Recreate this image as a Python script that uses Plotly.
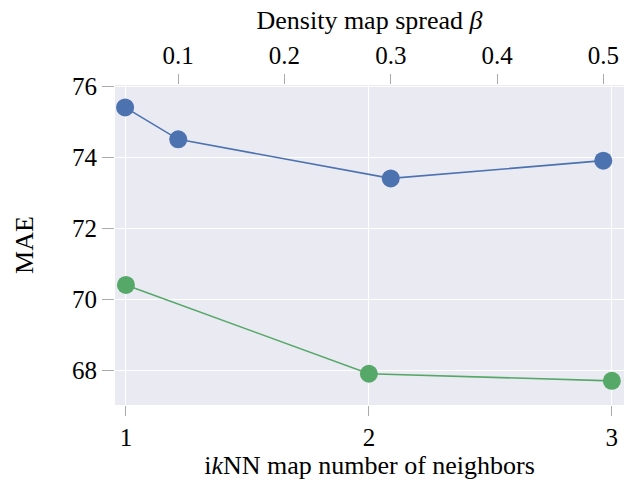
import plotly.graph_objects as go

# Data
neighbors = [1, 2, 3]
mae_neighbors = [70.4, 67.9, 67.7]
beta = [0.05, 0.1, 0.3, 0.5]
mae_beta = [75.4, 74.5, 73.4, 73.9]
y_ticks = [68, 70, 72, 74, 76]
beta_ticks = [0.1, 0.2, 0.3, 0.4, 0.5]

BLUE = "#4c72b0"
GREEN = "#55a868"
FONT = "'Liberation Serif', 'Times New Roman', 'DejaVu Serif', serif"

fig = go.Figure()
fig.add_trace(go.Scatter(x=neighbors, y=mae_neighbors, mode="lines+markers",
                         line=dict(color=GREEN, width=1.6),
                         marker=dict(color=GREEN, size=18),
                         xaxis="x", yaxis="y", showlegend=False))
fig.add_trace(go.Scatter(x=beta, y=mae_beta, mode="lines+markers",
                         line=dict(color=BLUE, width=1.6),
                         marker=dict(color=BLUE, size=18),
                         xaxis="x2", yaxis="y", showlegend=False))

tickfont = dict(family=FONT, size=25, color="black")
fig.update_layout(
    width=629, height=482,
    margin=dict(l=115, r=5, t=85, b=77),
    paper_bgcolor="white", plot_bgcolor="#eaeaf2",
    font=dict(family=FONT, size=25, color="black"),
    xaxis=dict(range=[0.955, 3.05], tickvals=neighbors, ticktext=[str(v) for v in neighbors],
               showgrid=True, gridcolor="white", gridwidth=1.2, zeroline=False,
               ticks="outside", ticklen=10, tickcolor="#aaaaaa", tickwidth=1,
               tickfont=tickfont, showline=False,
               title=dict(text="i<i>k</i>NN map number of neighbors", font=dict(family=FONT, size=26), standoff=4)),
    xaxis2=dict(range=[0.0405, 0.5195], overlaying="x", side="top", anchor="y",
                tickvals=beta_ticks, ticktext=[str(v) for v in beta_ticks],
                showgrid=False, zeroline=False,
                ticks="outside", ticklen=10, tickcolor="#aaaaaa", tickwidth=1,
                tickfont=tickfont, showline=False,
                title=dict(text="Density map spread <i>β</i>", font=dict(family=FONT, size=26), standoff=4)),
    yaxis=dict(range=[67.02, 76.03], tickvals=y_ticks, ticktext=[str(v) for v in y_ticks],
               showgrid=True, gridcolor="white", gridwidth=1.2, zeroline=False,
               ticks="outside", ticklen=12, tickcolor="#aaaaaa", tickwidth=1,
               tickfont=tickfont, showline=False,
               title=dict(text="MAE", font=dict(family=FONT, size=26), standoff=30)),
)

fig.write_html("out.html", config={"displayModeBar": False},
               post_script="document.body.style.margin='0';document.body.style.padding='0';")
